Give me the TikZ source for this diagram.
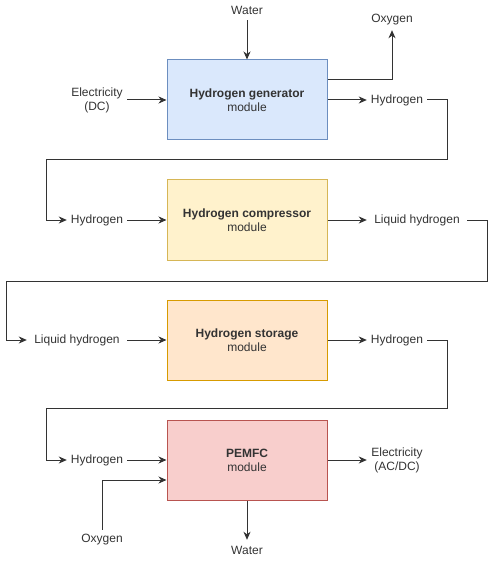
\documentclass[tikz,border=0pt]{standalone}
\usepackage{fontspec}
\setmainfont{Liberation Sans}
\usetikzlibrary{arrows.meta,calc}
\definecolor{ln}{HTML}{333333}
\definecolor{bluef}{HTML}{DAE8FC}\definecolor{blued}{HTML}{6C8EBF}
\definecolor{yelf}{HTML}{FFF2CC}\definecolor{yeld}{HTML}{D6B656}
\definecolor{oraf}{HTML}{FFE6CC}\definecolor{orad}{HTML}{D79B00}
\definecolor{redf}{HTML}{F8CECC}\definecolor{redd}{HTML}{B85450}
\tikzset{
  module/.style={draw, line width=1pt, minimum width=160pt, minimum height=80pt, inner sep=0pt, align=center, text=ln, font=\fontsize{12}{14}\selectfont},
  lbl/.style={minimum height=20pt, inner sep=0pt, align=center, text=ln, font=\fontsize{12}{14}\selectfont},
  flow/.style={draw=ln, line width=1pt, -{Stealth[length=8pt,width=7pt,inset=2.5pt]}},
  plain/.style={draw=ln, line width=1pt}
}
\begin{document}
\begin{tikzpicture}[x=1pt,y=-1pt]
\useasboundingbox (0,0) rectangle (496,561);
% modules
\node[module, fill=bluef, draw=blued] (gen) at (247,100) {\textbf{Hydrogen generator}\\module};
\node[module, fill=yelf, draw=yeld] (comp) at (247,220) {\textbf{Hydrogen compressor}\\module};
\node[module, fill=oraf, draw=orad] (stor) at (247,340) {\textbf{Hydrogen storage}\\module};
\node[module, fill=redf, draw=redd] (fc) at (247,460) {\textbf{PEMFC}\\module};
% labels
\node[lbl, minimum width=60pt] (water1) at (247,10) {Water};
\node[lbl, minimum width=40pt] (oxy1) at (392,20) {Oxygen};
\node[lbl, minimum width=60pt, minimum height=30pt] (elec1) at (97,100) {Electricity\\(DC)};
\node[lbl, minimum width=60pt] (h1) at (397,100) {Hydrogen};
\node[lbl, minimum width=60pt] (h2) at (97,220) {Hydrogen};
\node[lbl, minimum width=100pt] (lh1) at (417,220) {Liquid hydrogen};
\node[lbl, minimum width=100pt] (lh2) at (77,340) {Liquid hydrogen};
\node[lbl, minimum width=60pt] (h3) at (397,340) {Hydrogen};
\node[lbl, minimum width=60pt] (h4) at (97,460) {Hydrogen};
\node[lbl, minimum width=60pt] (oxy2) at (102,540) {Oxygen};
\node[lbl, minimum width=60pt, minimum height=30pt] (elec2) at (397,460) {Electricity\\(AC/DC)};
\node[lbl, minimum width=60pt] (water2) at (247,550) {Water};
% coordinates
\coordinate (genO) at ($(gen.east)+(0,-20)$);
\coordinate (fcO) at ($(fc.west)+(0,20)$);
% connectors
\draw[flow] (water1.south) -- (gen.north);
\draw[flow] (genO) -| (oxy1.south);
\draw[flow] (elec1.east) -- (gen.west);
\draw[flow] (gen.east) -- (h1.west);
\draw[flow] (h1.east) -- ++(20,0) -- ++(0,60) -| ($(h2.west)+(-20,0)$) -- (h2.west);
\draw[flow] (h2.east) -- (comp.west);
\draw[flow] (comp.east) -- (lh1.west);
\draw[flow] (lh1.east) -- ++(20,0) -- ++(0,61) -| ($(lh2.west)+(-20,0)$) -- (lh2.west);
\draw[flow] (lh2.east) -- (stor.west);
\draw[flow] (stor.east) -- (h3.west);
\draw[flow] (h3.east) -- ++(20,0) -- ++(0,68) -| ($(h4.west)+(-20,0)$) -- (h4.west);
\draw[flow] (h4.east) -- (fc.west);
\draw[flow] (oxy2.north) |- (fcO);
\draw[flow] (fc.east) -- (elec2.west);
\draw[flow] (fc.south) -- (water2.north);
\end{tikzpicture}
\end{document}
